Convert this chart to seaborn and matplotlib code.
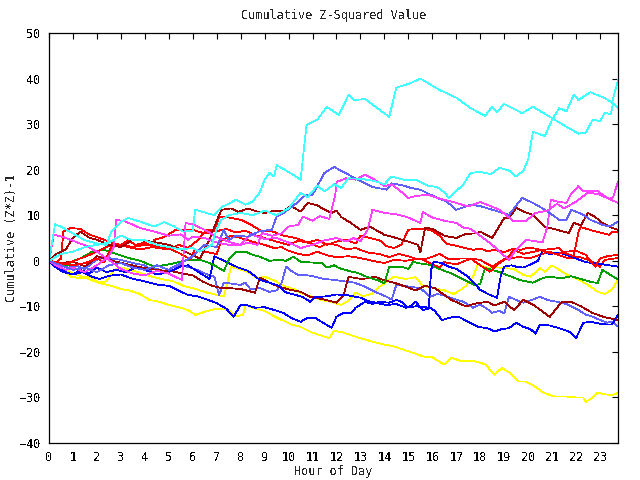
import matplotlib
matplotlib.use("Agg")
import matplotlib.pyplot as plt
import pandas as pd
import seaborn as sns

# ---- data: (hour, cumulative value) vertices ----
cyan_a = [(0,0),(0.25,8),(0.5,7.5),(1,6),(1.5,4.5),(2,3.8),(2.4,3.5),(2.6,6.4),(3,8.5),(3.3,9.4),(3.8,8.6),
          (4.4,7.5),(4.8,8.5),(5.2,7.6),(5.6,6.4),(6.0,6.6),(6.1,11.2),(6.5,10.6),(6.9,10.0),(7.2,11.8),(7.5,12.5),
          (7.8,13.4),(8.2,12.3),(8.5,13.0),(8.8,15),(9.0,17.8),(9.2,19.3),(9.4,18.5),(9.5,21),(10.0,19.5),(10.5,17.8),
          (10.75,29.8),(11.2,31),(11.6,33.8),(12.1,32),(12.5,36.4),(12.75,35.3),(13.2,35.5),(13.7,33.5),(14.2,31.6),
          (14.5,38),(15.1,39),(15.5,40),(16.3,37.5),(17,35.8),(17.6,33.5),(18.2,31.8),(18.5,33.8),(18.7,32.7),(19,34.4),
          (19.75,32.4),(20.2,33.8),(21,31.3),(21.7,29.1),(22.1,27.9),(22.4,28.1),(22.7,31),(23,30.6),(23.2,32.5),
          (23.45,32.2),(23.55,34.7),(23.75,33.5)]
cyan_b = [(0,0),(0.5,1.5),(1,2),(1.5,3),(2,3.5),(2.5,4),(3,5.5),(3.5,4.5),(4,4.5),(4.5,3.5),(5,3),(5.5,2.5),(6,2.8),
          (6.3,2.0),(6.8,3.5),(7.0,7),(7.2,9),(7.5,10),(8,10.5),(8.5,10),(9,11),(9.5,10),(10,11.5),(10.5,14.9),(10.8,14.0),
          (11.2,16.5),(11.5,15.2),(11.9,16.8),(12.2,16.0),(12.5,18.1),(13.0,18.0),(13.6,17.5),(14.0,16.8),(14.3,18.5),
          (14.8,17.8),(15.3,17.8),(15.8,16.5),(16.2,16.2),(16.5,15.0),(16.7,13.8),(17.0,15.3),(17.3,16.8),(17.6,19.3),
          (18.0,19.5),(18.45,19),(18.8,20.4),(19.2,19.8),(19.5,18.5),(19.8,19.8),(20.0,22.2),(20.2,28.3),(20.7,27.4),
          (21,31),(21.3,33.5),(21.6,32.8),(21.9,36.4),(22.1,35.3),(22.6,37),(23.2,35.7),(23.5,34.7),(23.75,39.7)]
magenta_a = [(0,0),(0.2,5.7),(0.6,5.2),(1.1,4.2),(1.5,3.4),(2.0,2.0),(2.5,0.2),(3.0,-1.8),(3.5,-2.8),(4.0,-3.2),
             (4.5,-2.2),(5.0,-2.8),(5.3,-3.6),(5.55,-4.2),(5.7,8.3),(6.0,8.0),(6.5,6.8),(7.0,5.2),(7.3,4.6),(7.6,4.0),
             (8.0,3.5),(8.3,4.0),(8.7,3.5),(8.9,6.1),(9.3,5.5),(9.7,6.0),(10.0,7.5),(10.4,7.9),(10.6,9.7),(11.0,8.8),
             (11.3,9.8),(11.7,9.2),(11.95,14.5),(12.0,17.3),(12.4,18.1),(12.8,17.8),(13.2,18.9),(13.6,17.8),(14.0,16.4),
             (14.3,16.8),(14.6,15.6),(15.0,13.8),(15.3,14.2),(15.8,14.5),(16.2,13.8),(16.8,13.0),(17.5,11.9),(18.0,12.9),
             (18.8,11.2),(19.4,8.7),(19.9,8.7),(20.3,10.5),(20.8,11.0),(21.2,12.5),(21.5,11.5),(22.0,13.0),(22.5,15.0),
             (23.0,14.5),(23.4,13.5),(23.55,14.0),(23.75,17.4)]
magenta_b = [(0,0),(0.3,-1),(0.7,-2),(1.0,-1.5),(1.5,-2.5),(2.0,-1),(2.5,1),(2.7,3),(2.8,9),(3.2,8.6),(3.8,7.2),
             (4.4,6.4),(5.0,5.5),(5.5,5.8),(5.8,4.6),(6.0,5.3),(6.5,5.0),(7.0,4.0),(7.5,3.5),(8.0,3.5),(8.4,5.8),(9.0,4.8),
             (9.5,5.0),(10,4.0),(10.5,2.8),(11.0,3.5),(11.5,4.5),(12.0,5.0),(12.4,4.2),(12.7,5.0),(13.0,4.3),(13.3,6.8),
             (13.5,11.2),(14.0,10.5),(14.5,10.2),(15.0,9.5),(15.5,8.3),(15.6,10.7),(16.0,9.5),(16.5,8.8),(17.0,8.3),
             (17.3,7.3),(17.6,7.0),(18.0,5.5),(18.5,3.5),(18.8,2.0),(19.2,0.2),(19.5,2.5),(19.9,4.6),(20.3,4.3),(20.6,4.0),
             (20.8,7.5),(20.95,13.4),(21.2,13.0),(21.6,12.7),(21.8,14.8),(22.1,16.4),(22.3,15.3),(22.9,15.3),(23.3,13.8),
             (23.75,12.7)]
lightblue_a = [(0,0),(0.5,-1),(1,-2),(1.5,-1.5),(2,-2.5),(2.5,-1),(3,-0.5),(3.5,-1.5),(4,-2),(4.5,-1),(5,-2),
               (5.5,-0.5),(6,1),(6.5,3.5),(7,3),(7.3,6.8),(7.5,4.5),(7.8,5.5),(8.3,5.3),(8.8,6.5),(9.3,6.8),(9.5,9.7),
               (9.8,10.5),(10.3,12.5),(10.7,14.5),(11,14.5),(11.5,19.3),(11.9,20.6),(12.5,18.9),(12.8,18),(13.5,16.2),
               (14.1,15.6),(14.3,17),(14.8,16.5),(15.1,16),(15.5,15.6),(16.2,13.8),(16.6,13),(17.0,11.2),(17.6,12.3),
               (18,12),(18.5,11.2),(19.2,10.1),(19.75,13.8),(20.2,12.7),(20.7,11.2),(21.3,9),(21.6,9),(21.8,11.2),
               (22.3,10.1),(22.6,9),(23.1,7.9),(23.4,7.5),(23.75,8.6)]
lightblue_b = [(0,0),(0.4,-0.8),(0.8,-1.5),(1.2,-1.2),(1.5,-1.8),(1.8,-0.5),(2.2,0.9),(2.6,0.5),(3.0,0.2),(3.5,-0.5),
               (4.0,-1.0),(4.2,-2.0),(4.5,-1.8),(4.9,-2.5),(5.1,-1.5),(5.5,-1.0),(5.9,-1.5),(6.2,-2.0),(6.6,-3.0),
               (6.9,-3.5),(7.1,-7.5),(7.3,-4.8),(7.6,-5.0),(8.0,-5.3),(8.2,-4.8),(8.4,-6.2),(8.8,-6.0),(9.2,-6.8),
               (9.5,-6.5),(9.7,-5.0),(9.9,-1.3),(10.1,-2.2),(10.4,-3.1),(10.8,-3.2),(11.1,-3.5),(11.5,-4.0),(11.9,-4.2),
               (12.3,-4.5),(12.75,-4.8),(13.2,-5.7),(13.6,-6.8),(14.1,-7.9),(14.3,-8.5),(14.5,-5.3),(14.8,-5.5),
               (15.2,-5.8),(15.5,-6.0),(15.9,-7.9),(16.2,-7.3),(16.5,-7.6),(16.8,-8.2),(17.3,-9.0),(17.7,-10.3),
               (18.0,-9.6),(18.3,-10.6),(18.5,-11.4),(18.8,-11.0),(19.0,-11.6),(19.2,-7.9),(19.5,-8.6),(19.8,-9.2),
               (20.2,-8.5),(20.5,-7.9),(20.8,-8.6),(21.2,-9.0),(21.6,-9.5),(22.0,-10.5),(22.4,-11.8),(22.7,-12.3),
               (23.0,-13.0),(23.3,-13.6),(23.5,-13.3),(23.75,-14.4)]
darkred_a = [(0,0),(0.3,1.5),(0.7,2.5),(1.0,5.0),(1.3,6.4),(1.7,5),(2.0,4.6),(2.5,3.5),(3.0,3.0),(3.5,4.6),(4.0,4.4),
             (4.5,4.0),(5.0,3.5),(5.5,2.5),(6.0,1.2),(6.3,0.5),(6.7,4.6),(6.9,7.5),(7.2,11.2),(7.6,11.5),(7.9,10.7),
             (8.3,11.5),(8.7,10.8),(9.0,10.5),(9.4,11),(9.8,11),(10.1,12),(10.5,10.8),(10.8,12.7),(11.2,12.2),(11.4,11.5),
             (11.8,10.5),(12.0,11),(12.2,9.6),(12.6,8.3),(13.0,6.8),(13.4,7.5),(14.0,5.7),(14.5,5.0),(15.0,4.2),(15.4,3.5),
             (15.5,1.8),(15.7,7.3),(16.0,7.0),(16.5,5.5),(17.0,5.0),(17.4,5.9),(17.8,6.0),(18.0,6.4),(18.5,5.0),(19.0,9.4),
             (19.2,9.4),(19.5,11.6),(19.8,10.8),(20.2,10.1),(20.7,7.5),(21.2,6.8),(21.7,6.1),(21.9,8.3),(22.2,7.8),
             (22.5,10.5),(22.8,9.6),(23.1,8.3),(23.5,7.2),(23.75,6.8)]
darkred_b = [(0,0),(0.5,-0.5),(1.0,-0.2),(1.5,-1.2),(1.7,-0.5),(2.0,1.0),(2.3,0.5),(2.8,-0.2),(3.3,-0.8),(3.9,-1.5),
             (4.5,-2.0),(5.1,-2.3),(5.5,-2.7),(6.0,-3.2),(6.4,-4.5),(6.8,-5.5),(7.2,-6.0),(7.5,-6.0),(8.0,-6.2),
             (8.6,-7.0),(8.8,-3.7),(9.2,-4.8),(9.6,-5.7),(10.1,-6.4),(10.5,-6.8),(10.9,-7.9),(11.3,-8.3),(11.7,-8.8),
             (12.0,-9.2),(12.3,-7.5),(12.5,-3.5),(12.8,-3.8),(13.1,-4.0),(13.6,-3.5),(14.0,-4.3),(14.4,-4.8),(14.8,-5.5),
             (15.3,-6.5),(15.7,-5.5),(16.1,-6.0),(16.5,-7.5),(16.8,-8.6),(17.4,-10.0),(17.8,-9.4),(18.3,-9.0),
             (18.6,-9.8),(19.0,-9.0),(19.4,-10.8),(19.8,-8.6),(20.2,-9.6),(20.9,-12.3),(21.4,-9.0),(21.8,-9.0),
             (22.2,-10.0),(22.7,-11.5),(23.2,-12.4),(23.75,-13.0)]
red_a = [(0,0),(0.3,-0.5),(0.5,0.5),(0.6,6.4),(0.9,7.2),(1.3,7.0),(1.7,5.7),(2.1,5.0),(2.6,4.0),(3.3,3.0),(3.8,2.5),
         (4.3,3.0),(4.4,4.6),(4.8,5.2),(5.3,6.8),(5.7,6.8),(6.0,6.8),(6.5,6.0),(6.9,6.5),(7.1,9.7),(7.5,9.5),(8.0,9.0),
         (8.4,8.0),(8.9,6.4),(9.3,6.5),(9.8,5.5),(10.3,5.0),(10.8,4.0),(11.3,3.0),(11.6,3.8),(12.0,3.5),(12.4,2.5),
         (12.8,2.8),(13.3,1.8),(13.8,1.5),(14.2,0.8),(14.6,1.5),(15.0,1.0),(15.4,0.3),(15.8,0.5),(16.3,1.5),(16.7,0.3),
         (17.2,0.5),(17.6,0.5),(18.0,0.2),(18.5,-1.3),(18.8,-0.3),(19.2,1.0),(19.4,2.4),(19.8,1.5),(20.5,2.3),
         (21.3,2.8),(21.5,1.8),(21.9,1.0),(22.1,6.4),(22.2,7.4),(22.5,6.9),(23.0,6.2),(23.4,5.7),(23.5,6.4),(23.75,6.4)]
red_b = [(0,0),(0.3,-1),(0.8,-0.5),(1.3,0.5),(1.8,1.5),(2.2,2.5),(2.6,3.5),(3.0,3.5),(3.3,4.5),(3.6,3.5),(4.0,4.0),
         (4.5,2.8),(5.0,2.5),(5.4,3.5),(5.8,2.8),(6.2,4.5),(6.6,6.8),(7.0,6.5),(7.4,7.0),(7.8,6.2),(8.2,6.6),(8.6,5.6),
         (9.0,5.0),(9.5,4.2),(10.0,3.5),(10.4,4.4),(10.8,4.0),(11.2,4.6),(11.6,3.5),(12.0,4.2),(12.4,4.6),(12.8,3.8),
         (13.0,5.5),(13.4,5.0),(13.8,4.5),(14.1,3.2),(14.4,2.8),(14.7,3.5),(15.0,6.8),(15.3,7.0),(15.7,7.0),(16.0,6.6),
         (16.3,5.5),(16.6,3.7),(17.0,3.3),(17.3,2.9),(17.7,2.4),(18.0,2.7),(18.3,2.1),(18.6,2.4),(19.0,1.9),(19.4,2.7),
         (19.7,2.4),(20.0,2.9),(20.4,2.6),(20.8,1.8),(21.2,1.5),(21.6,2.0),(22.0,2.2),(22.4,1.3),(22.8,-1.3),(23.0,0.5),
         (23.3,1.0),(23.75,1.3)]
red_c = [(0,0),(0.5,-0.5),(1.0,-1.0),(1.5,-0.5),(2.0,0.5),(2.3,-0.3),(2.6,3.0),(3.0,3.5),(3.5,3.0),(4.0,3.5),(4.5,3.2),
         (5.0,2.8),(5.5,1.5),(5.9,0.3),(6.1,2.5),(6.5,2.0),(7.0,1.5),(7.2,4.5),(7.6,5.5),(8.0,5.0),(8.5,4.2),(9.0,3.5),
         (9.4,2.8),(9.7,3.0),(10.0,2.2),(10.4,1.5),(10.8,1.2),(11.2,2.0),(11.6,1.2),(12.0,0.8),(12.5,1.0),(13.0,0.6),
         (13.5,0.0),(14.0,-0.5),(14.4,0.2),(14.9,0.0),(15.5,0.5),(15.9,-0.5),(16.3,-1.5),(16.5,-0.3),(17.0,-0.8),
         (17.6,0.5),(18.0,-1.0),(18.4,-2.4),(18.8,-0.5),(19.1,0.5),(19.6,0.8),(20.1,0.6),(20.5,1.3),(20.9,2.0),
         (21.3,1.2),(21.7,0.5),(22.1,0.9),(22.5,0.2),(22.8,-0.5),(23.0,-1.3),(23.2,0.2),(23.75,0.6)]
blue_a = [(0,0),(0.3,-1.0),(0.7,-2.5),(1.0,-3.0),(1.4,-2.5),(1.8,-3.5),(2.1,-4.0),(2.5,-3.3),(3.0,-3.0),(3.4,-3.8),
          (3.8,-4.3),(4.2,-4.8),(4.6,-5.3),(5.0,-5.5),(5.4,-6.5),(5.8,-7.5),(6.2,-7.8),(6.6,-8.5),(7.0,-9.3),
          (7.4,-10.5),(7.7,-12.3),(8.0,-9.7),(8.3,-9.8),(8.6,-10.3),(9.0,-10.2),(9.4,-10.8),(9.8,-11.5),(10.1,-12.5),
          (10.5,-13.4),(10.8,-12.5),(11.1,-12.5),(11.5,-13.8),(11.8,-14.7),(12.0,-12.3),(12.3,-11.4),(12.6,-11.5),
          (12.8,-10.3),(13.2,-9.0),(13.5,-9.5),(13.8,-9.0),(14.2,-9.2),(14.5,-8.6),(14.7,-9.0),(15.0,-10.3),(15.3,-9.0),
          (15.6,-10.8),(15.85,-10.5),(15.95,-2.0),(16.05,-0.2),(16.4,-0.5),(16.7,-1.3),(17.0,-1.8),(17.5,-3.5),
          (18.0,-6.4),(18.4,-7.5),(18.7,-8.1),(18.85,-3.5),(19.0,-1.3),(19.3,-1.0),(19.5,-1.3),(19.8,-1.5),(20.1,-0.8),
          (20.4,0.0),(20.6,2.2),(20.9,1.5),(21.3,1.8),(21.6,1.3),(22.0,0.5),(22.4,-0.3),(22.9,-0.6),(23.4,-1.0),
          (23.75,-1.3)]
blue_b = [(0,0),(0.3,-1.5),(0.6,-2.5),(1.0,-3.0),(1.3,-2.0),(1.7,-2.8),(2.0,-1.5),(2.4,-2.5),(2.8,-2.0),(3.2,-2.5),
          (3.6,-1.5),(4.0,-2.0),(4.5,-3.0),(5.0,-2.5),(5.5,-1.2),(5.8,-1.0),(6.1,-2.0),(6.4,-3.0),(6.7,-4.0),(6.9,1.0),
          (7.1,0.5),(7.5,-0.5),(7.9,-1.5),(8.3,-2.2),(8.8,-4.2),(9.2,-4.8),(9.6,-5.5),(9.9,-7.0),(10.3,-7.5),
          (10.6,-8.0),(10.9,-9.0),(11.1,-8.0),(11.6,-7.8),(12.0,-7.4),(12.5,-7.6),(13.0,-8.1),(13.3,-8.8),(13.7,-9.3),
          (14.1,-9.7),(14.5,-9.5),(14.9,-10.3),(15.3,-10.0),(15.9,-10.3),(16.1,-11.0),(16.4,-13.0),(16.8,-12.4),
          (17.1,-12.3),(17.5,-13.4),(17.9,-14.5),(18.3,-14.8),(18.6,-15.5),(18.9,-15.0),(19.2,-14.8),(19.5,-13.6),
          (19.8,-14.5),(20.1,-15.0),(20.3,-16.0),(20.5,-14.0),(20.9,-14.2),(21.3,-14.8),(21.7,-15.5),(22.0,-17.0),
          (22.3,-13.6),(22.6,-13.4),(23.0,-13.8),(23.3,-14.0),(23.5,-14.0),(23.75,-11.9)]
green = [(0,0),(0.4,-0.5),(0.7,-1.3),(1.0,0),(1.3,0.5),(1.8,2),(2.3,2.4),(2.8,1.5),(3.4,0.5),(3.8,0.0),(4.4,-1.3),
         (5.0,-0.8),(5.8,0.2),(6.3,0.2),(6.7,-0.5),(7.0,-1.3),(7.3,-2.2),(7.5,0.2),(7.8,2.0),(8.2,2.0),(8.5,1.3),
         (8.8,0.9),(9.2,0.0),(9.6,0.2),(9.9,0.0),(10.2,0.9),(10.5,-0.2),(11.0,-0.4),(11.4,-0.5),(11.6,-1.5),(11.9,-1.0),
         (12.1,-1.6),(12.5,-2.2),(12.9,-2.7),(13.3,-3.6),(13.8,-4.4),(14.0,-5.0),(14.2,-1.3),(14.7,-1.3),(15.0,-1.8),
         (15.2,-0.2),(15.5,-0.6),(15.9,-0.9),(16.3,-1.8),(16.8,-2.8),(17.5,-4.6),(17.8,-5.4),(18.0,-5.0),(18.2,-1.6),
         (18.7,-2.3),(19.1,-3.1),(19.7,-4.3),(20.2,-4.8),(20.5,-4.0),(20.8,-3.5),(21.4,-3.8),(21.8,-3.4),(22.2,-4.0),
         (22.6,-4.6),(22.9,-4.9),(23.1,-2.0),(23.4,-3.0),(23.75,-4.1)]
yellow_a = [(0,0),(0.4,-1.0),(0.9,-3.5),(1.3,-3.8),(1.7,-3.5),(2.1,-4.8),(2.4,-4.5),(2.7,-2.0),(3.0,-1.5),(3.4,-2.0),
            (3.9,-2.8),(4.3,-3.5),(4.7,-4.0),(5.2,-4.5),(5.6,-5.5),(6.0,-6.0),(6.6,-7.0),(7.0,-7.5),(7.3,-7.8),
            (7.5,-3.5),(7.6,-1.3),(7.9,-1.8),(8.3,-2.5),(8.7,-3.8),(9.0,-3.5),(9.4,-4.3),(9.8,-5.5),(10.2,-6.2),
            (10.6,-7.2),(11.0,-8.0),(11.4,-8.6),(11.9,-9.2),(12.2,-9.7),(12.5,-8.8),(12.8,-7.0),(13.1,-7.8),(13.5,-7.2),
            (13.8,-5.7),(14.2,-4.2),(14.4,-3.5),(14.9,-4.0),(15.3,-3.6),(15.6,-5.5),(16.0,-5.9),(16.5,-6.5),(16.9,-7.3),
            (17.2,-6.3),(17.4,-5.5),(17.7,-3.5),(17.9,-0.9),(18.3,-1.5),(18.8,-1.5),(19.4,-1.8),(19.8,-3.1),(20.1,-3.5),
            (20.5,-1.6),(20.7,-2.4),(21.0,-1.0),(21.3,-2.0),(21.6,-3.0),(22.0,-3.8),(22.5,-5.3),(22.9,-6.8),(23.2,-7.3),
            (23.5,-6.3),(23.75,-4.2)]
yellow_b = [(0,0),(0.3,-0.8),(0.6,-1.8),(1.0,-2.8),(1.4,-3.5),(1.8,-4.3),(2.2,-5.0),(2.6,-5.5),(3.0,-6.2),(3.4,-6.6),
            (3.8,-7.3),(4.2,-8.6),(4.6,-9.0),(5.0,-9.7),(5.4,-10.2),(5.8,-10.8),(6.1,-11.9),(6.6,-11.0),(7.0,-10.5),
            (7.5,-10.8),(7.8,-12.2),(8.1,-11.9),(8.2,-9.7),(8.6,-10.5),(9.0,-11.0),(9.4,-12.2),(9.8,-13.2),(10.1,-14.0),
            (10.5,-14.5),(11.0,-15.8),(11.4,-16.5),(11.7,-17.0),(11.9,-15.3),(12.3,-15.8),(12.7,-16.5),(13.0,-17.0),
            (13.4,-17.6),(14.0,-18.4),(14.4,-18.8),(14.8,-19.5),(15.2,-20.2),(15.6,-21.0),(16.0,-21.2),(16.5,-22.8),
            (16.8,-21.3),(17.2,-22.0),(17.7,-22.0),(18.2,-22.7),(18.6,-25.0),(18.9,-23.5),(19.2,-24.5),(19.6,-26.5),
            (19.9,-26.5),(20.2,-27.3),(20.6,-28.8),(20.9,-29.5),(21.1,-29.8),(21.6,-29.8),(22.0,-30.0),(22.3,-30.0),
            (22.4,-31.0),(22.7,-30.0),(22.9,-29.0),(23.2,-29.3),(23.5,-29.5),(23.75,-29.0)]

series_data = {
    "yellow_b": yellow_b, "yellow_a": yellow_a, "lightblue_b": lightblue_b, "darkred_b": darkred_b,
    "blue_b": blue_b, "green": green, "red_c": red_c, "blue_a": blue_a, "red_b": red_b, "red_a": red_a,
    "darkred_a": darkred_a, "magenta_b": magenta_b, "lightblue_a": lightblue_a, "magenta_a": magenta_a,
    "cyan_b": cyan_b, "cyan_a": cyan_a,
}
palette = {
    "cyan_a": "#40ffff", "cyan_b": "#40ffff", "magenta_a": "#ff40ff", "magenta_b": "#ff40ff",
    "lightblue_a": "#6060ff", "lightblue_b": "#6060ff", "darkred_a": "#a00000", "darkred_b": "#a00000",
    "red_a": "#ff0000", "red_b": "#ff0000", "red_c": "#ff0000", "blue_a": "#0000ff", "blue_b": "#0000ff",
    "green": "#00a000", "yellow_a": "#ffff00", "yellow_b": "#ffff00",
}

rows = []
for name, pts in series_data.items():
    for h, v in pts:
        rows.append((name, h, v))
df = pd.DataFrame(rows, columns=["series", "hour", "value"])

sns.set_theme(style="white")
plt.rcParams["font.family"] = ["DejaVu Sans Mono"]
plt.rcParams["text.antialiased"] = False
plt.rcParams["lines.antialiased"] = False

fig = plt.figure(figsize=(6.4, 4.8), dpi=100)
ax = fig.add_axes([49 / 640, 37 / 480, 569 / 640, 410 / 480])

sns.lineplot(data=df, x="hour", y="value", hue="series", hue_order=list(series_data.keys()),
             palette=palette, sort=False, estimator=None, legend=False, linewidth=0.55, ax=ax)

ax.set_xlim(0, 23.75)
ax.set_ylim(-40, 50)
ax.set_xticks(list(range(24)))
ax.set_yticks(list(range(-40, 51, 10)))
ax.tick_params(direction="in", top=True, right=True, length=4, width=0.8, labelsize=8.5,
               colors="black", pad=6)
for s in ax.spines.values():
    s.set_color("black")
    s.set_linewidth(0.9)
ax.set_xlabel("")
ax.set_ylabel("")
ax.grid(False)

fig.text(333.5 / 640, 1 - 16 / 480, "Cumulative Z-Squared Value", ha="center", va="center", fontsize=8.5)
fig.text(333.5 / 640, 1 - 471 / 480, "Hour of Day", ha="center", va="center", fontsize=8.5)
fig.text(12 / 640, 1 - 238 / 480, "Cumulative (Z*Z)-1", ha="center", va="center", rotation=90, fontsize=8.5)

fig.savefig("out.png", dpi=100, facecolor="white")
